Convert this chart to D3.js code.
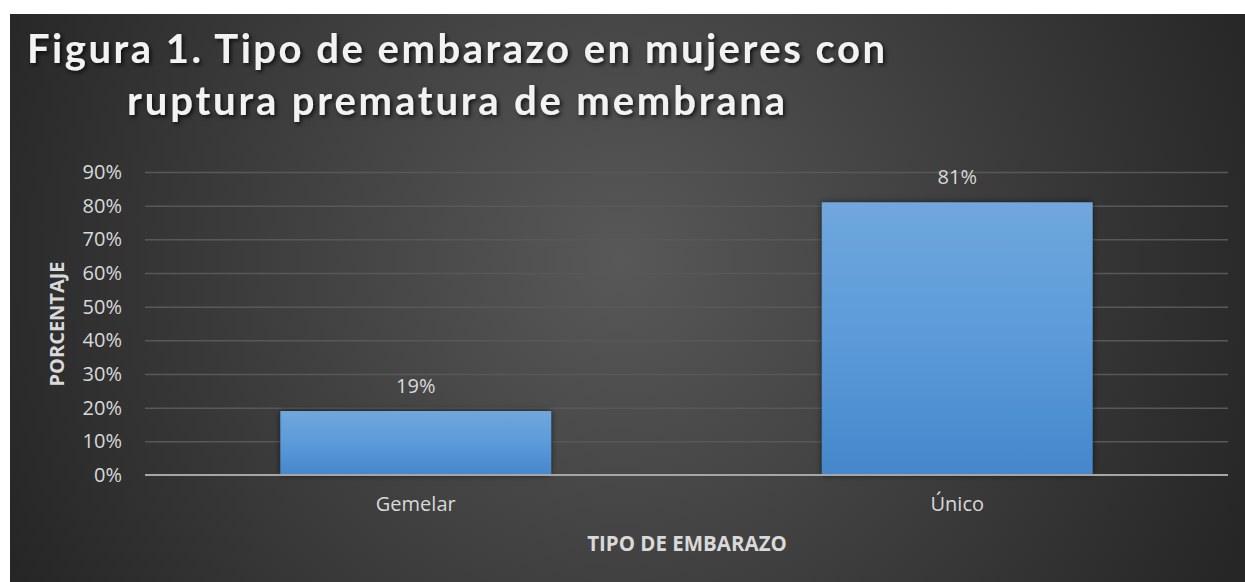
<!DOCTYPE html>
<html lang="es">
<head>
  <meta charset="UTF-8">
  <title>Tipo de embarazo</title>
  <style>
    html, body { margin: 0; padding: 0; background: #fff; }
    text { font-family: "Open Sans", "Noto Sans", sans-serif; }
    .tick text { fill: #d9d9d9; font-size: 20px; }
    .grid-line { stroke: #585858; stroke-width: 1.5; }
  </style>
</head>
<body>
  <script src="https://cdn.jsdelivr.net/npm/d3@7"></script>
  <script>
    const categories = ['Gemelar', 'Único'];
    const values = [0.19, 0.81];
    const yTicks = [0, 0.1, 0.2, 0.3, 0.4, 0.5, 0.6, 0.7, 0.8, 0.9];
    const titleLines = ['Figura 1. Tipo de embarazo en mujeres con', 'ruptura prematura de membrana'];

    const width = 1245, height = 582;
    const plot = { left: 145, right: 1228, top: 172, bottom: 475 };

    const svg = d3.select('body').append('svg')
      .attr('width', width)
      .attr('height', height);

    const defs = svg.append('defs');
    const bg = defs.append('radialGradient')
      .attr('id', 'bg')
      .attr('gradientUnits', 'userSpaceOnUse')
      .attr('cx', 620).attr('cy', 260).attr('r', 680);
    bg.append('stop').attr('offset', '0%').attr('stop-color', '#585858');
    bg.append('stop').attr('offset', '100%').attr('stop-color', '#262626');

    const barGrad = defs.append('linearGradient')
      .attr('id', 'bar').attr('x1', 0).attr('y1', 0).attr('x2', 0).attr('y2', 1);
    barGrad.append('stop').attr('offset', '0%').attr('stop-color', '#70a7dd');
    barGrad.append('stop').attr('offset', '50%').attr('stop-color', '#5b9ad9');
    barGrad.append('stop').attr('offset', '100%').attr('stop-color', '#4587cb');

    const shadow = defs.append('filter').attr('id', 'shadow')
      .attr('x', '-10%').attr('y', '-20%').attr('width', '120%').attr('height', '140%');
    shadow.append('feDropShadow').attr('dx', 2).attr('dy', 2)
      .attr('stdDeviation', 2).attr('flood-color', '#000').attr('flood-opacity', 0.75);

    const barShadow = defs.append('filter').attr('id', 'barshadow')
      .attr('x', '-10%').attr('y', '-10%').attr('width', '120%').attr('height', '120%');
    barShadow.append('feDropShadow').attr('dx', 0).attr('dy', 0)
      .attr('stdDeviation', 3).attr('flood-color', '#000').attr('flood-opacity', 0.6);

    svg.append('rect')
      .attr('x', 10).attr('y', 14)
      .attr('width', width - 10).attr('height', height - 14)
      .attr('fill', 'url(#bg)');

    // titulo
    const title = svg.append('g').attr('filter', 'url(#shadow)');
    const titleLengths = [858, 658];
    title.selectAll('text').data(titleLines).join('text')
      .attr('x', 456)
      .attr('y', (d, i) => 63 + i * 52)
      .attr('text-anchor', 'middle')
      .attr('fill', '#f2f2f2')
      .style('font-family', 'Lato, "Open Sans", sans-serif')
      .attr('font-size', 40)
      .attr('font-weight', 700)
      .attr('textLength', (d, i) => titleLengths[i])
      .attr('lengthAdjust', 'spacing')
      .text(d => d);

    const x = d3.scaleBand().domain(categories)
      .range([plot.left, plot.right])
      .paddingInner(0.5).paddingOuter(0.25);
    const y = d3.scaleLinear().domain([0, 0.9]).range([plot.bottom, plot.top]);

    // eje y con lineas de cuadricula
    const yAxis = svg.append('g')
      .attr('transform', `translate(${plot.left},0)`)
      .call(d3.axisLeft(y).tickValues(yTicks).tickFormat(d3.format('.0%')).tickSize(0).tickPadding(23));
    yAxis.select('.domain').remove();
    yAxis.selectAll('g.tick')
      .filter(d => d > 0)
      .append('line')
      .classed('grid-line', true)
      .attr('x1', 0).attr('x2', plot.right - plot.left);

    svg.append('g').selectAll('rect').data(values).join('rect')
      .attr('x', (d, i) => x(categories[i]))
      .attr('y', d => y(d))
      .attr('width', x.bandwidth())
      .attr('height', d => y(0) - y(d))
      .attr('fill', 'url(#bar)')
      .attr('filter', 'url(#barshadow)');

    svg.append('line')
      .attr('x1', plot.left).attr('x2', plot.right)
      .attr('y1', y(0)).attr('y2', y(0))
      .attr('stroke', '#a6a6a6').attr('stroke-width', 2);

    // etiquetas de datos
    svg.append('g').selectAll('text').data(values).join('text')
      .attr('x', (d, i) => x(categories[i]) + x.bandwidth() / 2)
      .attr('y', d => y(d) - 18)
      .attr('text-anchor', 'middle')
      .attr('fill', '#d9d9d9')
      .attr('font-size', 20)
      .text(d => d3.format('.0%')(d));

    // eje x
    const xAxis = svg.append('g')
      .attr('transform', `translate(0,${plot.bottom})`)
      .call(d3.axisBottom(x).tickSize(0).tickPadding(22));
    xAxis.select('.domain').remove();

    svg.append('text')
      .attr('x', 687).attr('y', 551)
      .attr('text-anchor', 'middle')
      .attr('fill', '#d9d9d9')
      .attr('font-size', 20.5)
      .attr('font-weight', 700)
      .text('TIPO DE EMBARAZO');

    svg.append('text')
      .attr('transform', 'translate(64,324) rotate(-90)')
      .attr('text-anchor', 'middle')
      .attr('fill', '#d9d9d9')
      .attr('font-size', 20)
      .attr('font-weight', 700)
      .text('PORCENTAJE');
  </script>
</body>
</html>
